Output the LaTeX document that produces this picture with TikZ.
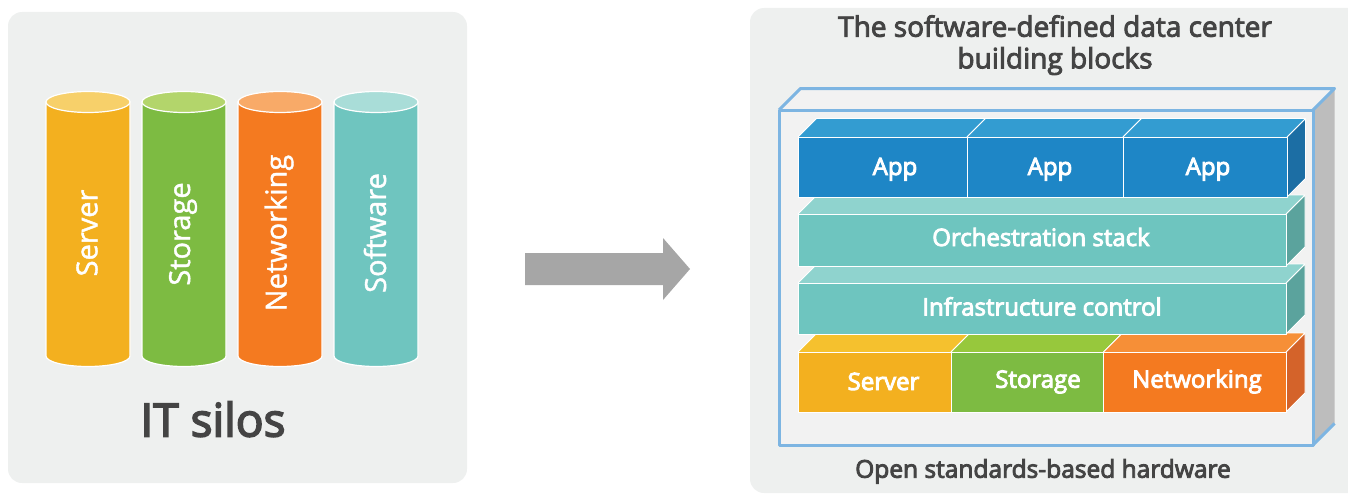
\documentclass[tikz,border=0pt]{standalone}
\usepackage{fontspec}
\setmainfont{Open Sans}
\newcommand\heavy[2]{\special{pdf:literal direct 2 Tr #1 w}#2\special{pdf:literal direct 0 Tr}}
\definecolor{panel}{HTML}{EEF0EF}
\definecolor{srvF}{HTML}{F3B01F}
\definecolor{srvC}{HTML}{F7D06A}
\definecolor{srvT}{HTML}{F5C12E}
\definecolor{stoF}{HTML}{7DBB42}
\definecolor{stoC}{HTML}{B3D56B}
\definecolor{stoT}{HTML}{97C83C}
\definecolor{netF}{HTML}{F47A20}
\definecolor{netC}{HTML}{F8AA68}
\definecolor{netT}{HTML}{F68F37}
\definecolor{netS}{HTML}{D4632A}
\definecolor{sftF}{HTML}{6FC5BF}
\definecolor{sftC}{HTML}{A9DDD8}
\definecolor{appF}{HTML}{1E86C6}
\definecolor{appT}{HTML}{339CD1}
\definecolor{appS}{HTML}{1C6EA4}
\definecolor{orcF}{HTML}{6EC5BF}
\definecolor{orcT}{HTML}{8FD3CE}
\definecolor{orcS}{HTML}{5BA39D}
\definecolor{boxline}{HTML}{7DB5E2}
\definecolor{boxgray}{HTML}{BDBDBD}
\definecolor{boxin}{HTML}{F2F2F2}
\definecolor{arrowgray}{HTML}{A6A6A6}
\definecolor{txt}{HTML}{444444}
\tikzset{
  x=1pt, y=-1pt,
  face/.style={draw=white, line width=0.8pt, line join=round},
  cyl/.style={draw=white, line width=1.2pt},
  cyllabel/.style={rotate=90, text=white, font=\fontsize{29}{30}\selectfont, inner sep=0pt},
  blocklabel/.style={text=white, font=\fontsize{24}{26}\selectfont, inner sep=0pt, anchor=base},
  darklabel/.style={text=txt, align=center, inner sep=0pt, anchor=base}
}
% prism: x1 y1 x2 y2 depth front top side
\newcommand\prismblk[8]{%
  \fill[#8] (#3,#2) -- ++(#5,-#5) -- ($(#3,#4)+(#5,-#5)$) -- (#3,#4) -- cycle;
  \draw[face] (#3,#2) -- ++(#5,-#5) -- ($(#3,#4)+(#5,-#5)$) -- (#3,#4);
  \fill[#7] (#1,#2) -- ++(#5,-#5) -- ($(#3,#2)+(#5,-#5)$) -- (#3,#2) -- cycle;
  \draw[face] (#1,#2) -- ++(#5,-#5) -- ($(#3,#2)+(#5,-#5)$) -- (#3,#2);
  \draw[face, fill=#6] (#1,#2) rectangle (#3,#4);
}
% cylinder: center x, half width, body colour, top colour
\newcommand\silo[4]{%
  \path[cyl, fill=#3] (#1-#2,102) -- (#1-#2,356)
    .. controls (#1-#2,356+5.8) and (#1-0.552*#2,366.5) .. (#1,366.5)
    .. controls (#1+0.552*#2,366.5) and (#1+#2,356+5.8) .. (#1+#2,356)
    -- (#1+#2,102) -- cycle;
  \path[cyl, fill=#4] (#1,102) ellipse [x radius=#2pt, y radius=10.5pt];
}
\usetikzlibrary{calc}
\begin{document}
\begin{tikzpicture}
\useasboundingbox (0,0) rectangle (1348,495);
% panels
\fill[panel, rounded corners=14pt] (8,12) rectangle (467,483);
\fill[panel, rounded corners=14pt] (750,8) rectangle (1380,493);
% silos
\silo{88}{42}{srvF}{srvC}
\silo{184}{42}{stoF}{stoC}
\silo{280}{42}{netF}{netC}
\silo{376}{42}{sftF}{sftC}
\node[cyllabel] (lserver) at (87,233) {\heavy{0.4}{Server}};
\node[cyllabel] (lstorage) at (183,234) {\heavy{0.4}{Storage}};
\node[cyllabel] (lnetworking) at (279,233) {\heavy{0.4}{Networking}};
\node[cyllabel] (lsoftware) at (375,233) {\heavy{0.4}{Software}};
\node[darklabel, font=\fontsize{46}{48}\selectfont] (silos) at (213,436.5) {\heavy{1.6}{IT silos}};
% arrow
\fill[arrowgray] (525,253) -- (663,253) -- (663,238) -- (690,269) -- (663,300) -- (663,285) -- (525,285) -- cycle;
% title
\node[darklabel, font=\fontsize{28}{31.6}\selectfont] (title) at (1055,68.3) {\heavy{0.9}{The software-defined data center}\\\heavy{0.9}{building blocks}};
% outer box
\fill[boxgray] (1313,110) -- (1334.5,88.5) -- (1334.5,423.5) -- (1313,445) -- cycle;
\fill[boxin] (779,110) -- (800.5,88.5) -- (1334.5,88.5) -- (1313,110) -- cycle;
\fill[boxin] (779,110) rectangle (1313,445);
\draw[boxline, line width=3pt, line join=round] (779,110) -- (800.5,88.5) -- (1334.5,88.5) -- (1313,110);
\draw[boxline, line width=3pt, line join=round] (779,110) rectangle (1313,445);
\draw[boxline, line width=3pt] (1313,445) -- (1334.5,423.5);
% hardware row
\prismblk{798}{352}{951}{412}{19}{srvF}{srvT}{netS}
\prismblk{951}{352}{1103.5}{412}{19}{stoF}{stoT}{netS}
\prismblk{1103.5}{352}{1286}{412}{19}{netF}{netT}{netS}
% infrastructure
\prismblk{798}{283}{1286}{334}{19}{orcF}{orcT}{orcS}
% orchestration
\prismblk{798}{214}{1286}{266}{19}{orcF}{orcT}{orcS}
% apps
\prismblk{798}{137}{967}{197}{18.5}{appF}{appT}{appS}
\prismblk{967}{137}{1123}{197}{18.5}{appF}{appT}{appS}
\prismblk{1123}{137}{1287}{197}{18.5}{appF}{appT}{appS}
% labels
\node[blocklabel] (app1) at (895,175) {\heavy{0.9}{App}};
\node[blocklabel] (app2) at (1050,175) {\heavy{0.9}{App}};
\node[blocklabel] (app3) at (1208,175) {\heavy{0.9}{App}};
\node[blocklabel] (orch) at (1041,246) {\heavy{0.9}{Orchestration stack}};
\node[blocklabel] (infra) at (1042,315.5) {\heavy{0.9}{Infrastructure control}};
\node[blocklabel] (hserver) at (883.5,390) {\heavy{0.9}{Server}};
\node[blocklabel] (hstorage) at (1038,387.7) {\heavy{0.9}{Storage}};
\node[blocklabel] (hnet) at (1197,387.7) {\heavy{0.9}{Networking}};
\node[darklabel, font=\fontsize{24.5}{26}\selectfont] (hw) at (1043,477.7) {\heavy{0.9}{Open standards-based hardware}};
\end{tikzpicture}
\end{document}
